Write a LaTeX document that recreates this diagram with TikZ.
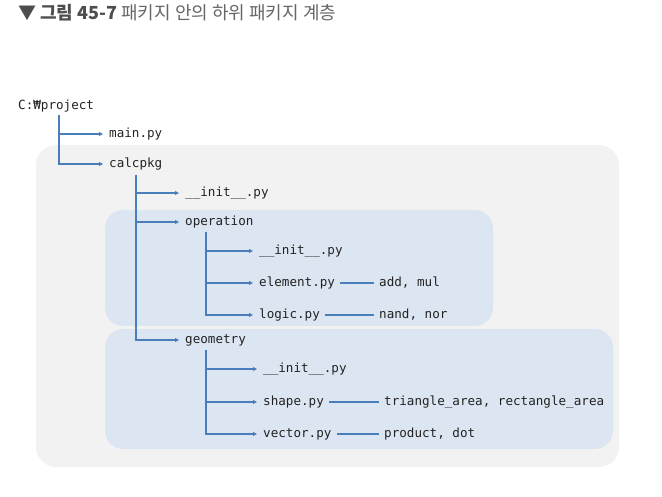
\documentclass[tikz,border=0pt]{standalone}
\usepackage{fontspec}
\setmonofont{DejaVu Sans Mono}
\newfontfamily\krfont{Noto Sans CJK KR}
\usetikzlibrary{arrows.meta}
\definecolor{lnblue}{HTML}{4A7EBB}
\definecolor{outerbg}{HTML}{F2F2F2}
\definecolor{innerbg}{HTML}{DCE6F2}
\definecolor{txt}{HTML}{222222}
\definecolor{titledark}{HTML}{4D4D4D}
\definecolor{titlegray}{HTML}{666666}
\begin{document}
\begin{tikzpicture}[x=1pt,y=-1pt,
 file/.style={anchor=west,inner sep=0pt,yshift=-2pt,font=\ttfamily\fontsize{12.6}{14}\selectfont,text=txt},
 arr/.style={draw=lnblue,line width=1.5pt,-{Triangle[length=4pt,width=4pt]},shorten >=6pt},
 link/.style={draw=lnblue,line width=1.5pt,shorten <=5pt,shorten >=5pt},
 outerpanel/.style={fill=outerbg,rounded corners=20pt},
 innerpanel/.style={fill=innerbg,rounded corners=18pt}]
\useasboundingbox (0,0) rectangle (662,497);
% panels
\path[outerpanel] (36,145) rectangle (619,467);
\path[innerpanel] (105,210) rectangle (493,326);
\path[innerpanel] (105,329) rectangle (613,449);
% title
\node[anchor=west,inner sep=0pt] (title) at (18,13)
 {\krfont\fontsize{18}{20}\selectfont\color{titledark}\textbf{▼ 그림 45-7} \color{titlegray}패키지 안의 하위 패키지 계층};
% nodes
\node[file] (root) at (18,104) {C:₩project};
\node[file] (main) at (109,132) {main.py};
\node[file] (calc) at (109,162) {calcpkg};
\node[file] (cinit) at (185,191) {\_\_init\_\_.py};
\node[file] (oper) at (185,220) {operation};
\node[file] (oinit) at (259,249) {\_\_init\_\_.py};
\node[file] (elem) at (259,281) {element.py};
\node[file] (logic) at (259,313) {logic.py};
\node[file] (addmul) at (379,281) {add, mul};
\node[file] (nand) at (379,313) {nand, nor};
\node[file] (geom) at (185,338) {geometry};
\node[file] (ginit) at (263,367) {\_\_init\_\_.py};
\node[file] (shape) at (263,400) {shape.py};
\node[file] (vect) at (263,432) {vector.py};
\node[file] (tri) at (384,400) {triangle\_area, rectangle\_area};
\node[file] (prod) at (384,432) {product, dot};
% trunk tops
\coordinate (rootT) at (59,115);
\coordinate (calcT) at (136,175);
\coordinate (operT) at (206,232);
\coordinate (geomT) at (206,350);
% connectors
\draw[arr] (rootT) |- (main.west);
\draw[arr] (rootT) |- (calc.west);
\draw[arr] (calcT) |- (cinit.west);
\draw[arr] (calcT) |- (oper.west);
\draw[arr] (calcT) |- (geom.west);
\draw[arr] (operT) |- (oinit.west);
\draw[arr] (operT) |- (elem.west);
\draw[arr] (operT) |- (logic.west);
\draw[arr] (geomT) |- (ginit.west);
\draw[arr] (geomT) |- (shape.west);
\draw[arr] (geomT) |- (vect.west);
\draw[link] (elem.east) -- (addmul.west);
\draw[link] (logic.east) -- (nand.west);
\draw[link] (shape.east) -- (tri.west);
\draw[link] (vect.east) -- (prod.west);
\end{tikzpicture}
\end{document}
